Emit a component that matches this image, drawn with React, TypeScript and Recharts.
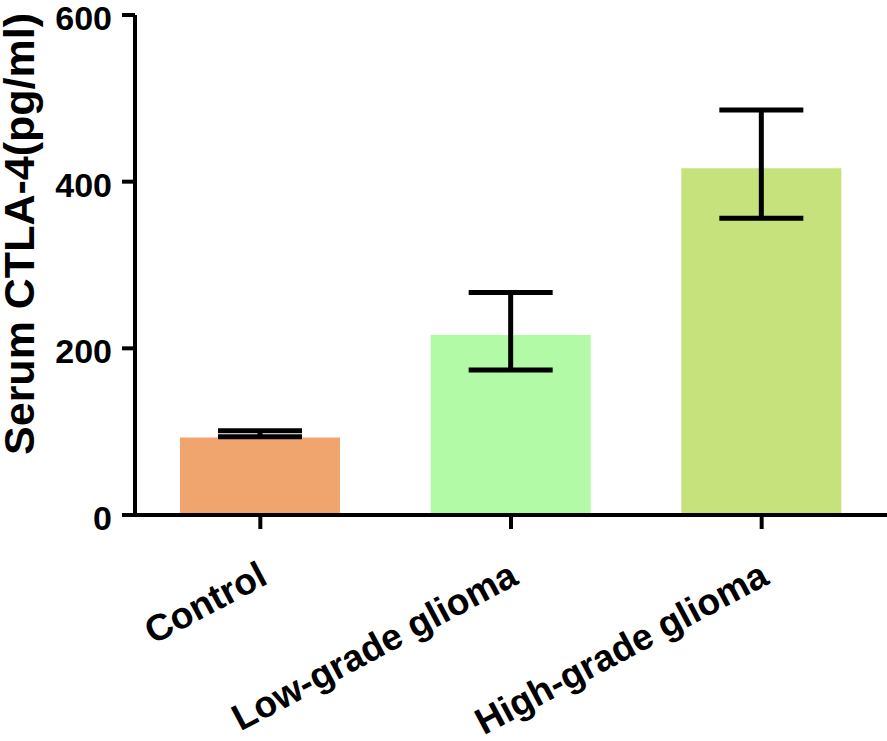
import React from 'react';
import { BarChart, Bar, XAxis, YAxis, ErrorBar, Cell, Label } from 'recharts';

const groups = ['Control', 'Low-grade glioma', 'High-grade glioma'];
const means = [93, 216, 416];
const upperEnds = [101, 267, 486];
const lowerEnds = [94, 174, 356];
const barColors = ['#F0A56E', '#B3FAA6', '#C5E27D'];
const yTicks = [0, 200, 400, 600];

const data = groups.map((name, i) => ({
  name,
  value: means[i],
  err: [means[i] - lowerEnds[i], upperEnds[i] - means[i]],
}));

const FONT = '"Liberation Sans", Arial, Helvetica, sans-serif';

function GroupTick({ x, y, payload }: any) {
  return (
    <g transform={`translate(${x + 9},${y + 54})`}>
      <text
        textAnchor="end"
        transform="rotate(-28)"
        fontFamily={FONT}
        fontWeight="bold"
        fontSize={37}
        fill="#000"
      >
        {payload.value}
      </text>
    </g>
  );
}

function YTitle({ viewBox }: any) {
  return (
    <text
      transform={`translate(${viewBox.x + 34},${viewBox.y + 219}) rotate(-90)`}
      textAnchor="middle"
      fontFamily={FONT}
      fontWeight="bold"
      fontSize={43}
      fill="#000"
    >
      Serum CTLA-4(pg/ml)
    </text>
  );
}

export default function App() {
  return (
    <div style={{ position: 'absolute', left: 0, top: 0, width: 887, height: 741, background: '#fff' }}>
      <BarChart width={887} height={741} data={data} margin={{ top: 15, right: 0, left: 0, bottom: 0 }}>
        <XAxis
          dataKey="name"
          height={226}
          axisLine={{ stroke: '#000', strokeWidth: 4 }}
          tickLine={{ stroke: '#000', strokeWidth: 4 }}
          tickSize={14}
          tickMargin={0}
          tick={<GroupTick />}
          interval={0}
        />
        <YAxis
          width={135}
          domain={[0, 600]}
          ticks={yTicks}
          interval={0}
          axisLine={{ stroke: '#000', strokeWidth: 4 }}
          tickLine={{ stroke: '#000', strokeWidth: 4 }}
          tickSize={13}
          tickMargin={10}
          tick={{ fill: '#000', fontSize: 34, fontWeight: 'bold', fontFamily: FONT, dy: 3 }}
        >
          <Label content={<YTitle />} />
        </YAxis>
        <Bar dataKey="value" barSize={160} isAnimationActive={false}>
          {data.map((d, i) => (
            <Cell key={d.name} fill={barColors[i]} />
          ))}
          <ErrorBar dataKey="err" width={42} stroke="#000" strokeWidth={5} isAnimationActive={false} />
        </Bar>
      </BarChart>
    </div>
  );
}
